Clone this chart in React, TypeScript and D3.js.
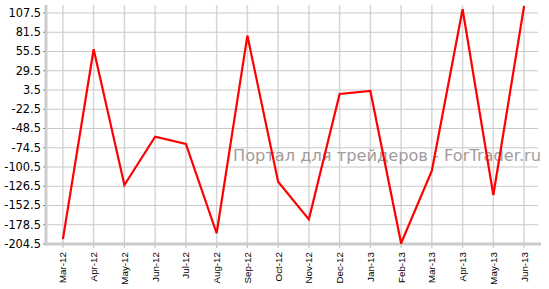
import React from "react";
import * as d3 from "d3";

const categories = ["Mar-12","Apr-12","May-12","Jun-12","Jul-12","Aug-12","Sep-12","Oct-12","Nov-12","Dec-12","Jan-13","Feb-13","Mar-13","Apr-13","May-13","Jun-13"];
const values = [-198, 58.5, -124.8, -59.6, -69.4, -190, 77, -120.3, -171.2, -1.9, 2.2, -203.5, -105.5, 112.5, -138.3, 117];
const yTicks = [107.5, 81.5, 55.5, 29.5, 3.5, -22.5, -48.5, -74.5, -100.5, -126.5, -152.5, -178.5, -204.5];
const watermark = "Портал для трейдеров - ForTrader.ru";

export default function App() {
  const W = 549, H = 289;
  const left = 46, right = 541, top = 13, bottom = 244;
  const x = d3.scalePoint<string>().domain(categories).range([left, right]).padding(0.55);
  const y = d3.scaleLinear().domain([-204.5, 107.5]).range([bottom, top]);
  const line = d3.line<number>().x((_, i) => x(categories[i])!).y(d => y(d));
  const font = "DejaVu Sans, Verdana, sans-serif";
  const xfont = "Liberation Sans, Arial, sans-serif";
  return (
    <svg width={W} height={H} style={{ position: "absolute", left: 0, top: 0 }}>
      <rect width={W} height={H} fill="#fff" />
      <defs>
        <clipPath id="pc"><rect x={left} y={4} width={right - left} height={bottom - 4} /></clipPath>
      </defs>
      {categories.map(c => (
        <line key={c} x1={x(c)} x2={x(c)} y1={5} y2={bottom} stroke="#d6d6d6" strokeWidth={1.5} />
      ))}
      {yTicks.map(t => (
        <line key={t} x1={left} x2={right - 3} y1={y(t)} y2={y(t)} stroke="#c8c8c8" strokeWidth={1.2} />
      ))}
      <text x={233} y={161} fontFamily={font} fontSize={16.5} fill="#a39c9c" textLength={308} lengthAdjust="spacingAndGlyphs">{watermark}</text>
      <line x1={left} x2={left} y1={5} y2={bottom + 1.5} stroke="#cccccc" strokeWidth={3} />
      <line x1={left - 1.5} x2={right} y1={bottom} y2={bottom} stroke="#cccccc" strokeWidth={3} />
      {yTicks.map(t => (
        <g key={t}>
          <line x1={left - 3} x2={left - 1} y1={y(t)} y2={y(t)} stroke="#888" strokeWidth={1} />
          <text x={41} y={y(t)} dy="0.35em" textAnchor="end" fontFamily={font} fontSize={11.4} fill="#000">{t}</text>
        </g>
      ))}
      {categories.map(c => (
        <g key={c}>
          <line x1={x(c)} x2={x(c)} y1={bottom + 1} y2={bottom + 4} stroke="#bbb" strokeWidth={1} />
          <text transform={`translate(${x(c)! + 3.5},${bottom + 8}) rotate(-90)`} textAnchor="end" fontFamily={xfont} fontSize={9.8} fill="#000">{c}</text>
        </g>
      ))}
      <path d={line(values)!} fill="none" stroke="#ff0000" strokeWidth={2.2} strokeLinejoin="miter" clipPath="url(#pc)" />
    </svg>
  );
}
